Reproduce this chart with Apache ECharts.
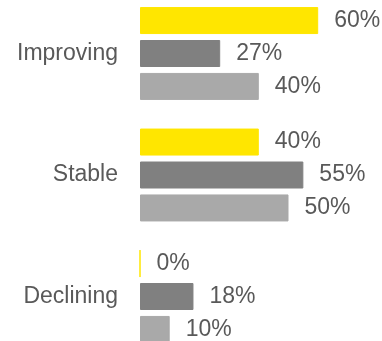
<!DOCTYPE html>
<html>
<head>
<meta charset="utf-8">
<script src="https://cdn.jsdelivr.net/npm/echarts@6/dist/echarts.min.js"></script>
<style>
  html, body { margin: 0; padding: 0; background: #fff; }
  #chart { width: 382px; height: 341px; }
</style>
</head>
<body>
<div id="chart"></div>
<script>
// Outlook categories and the three survey series (percent)
const categories = ['Improving', 'Stable', 'Declining'];
const seriesA = [60, 40, 0];
const seriesB = [27, 55, 18];
const seriesC = [40, 50, 10];
const seriesColors = ['#FFE600', '#808080', '#A9A9A9'];

const textColor = '#595959';
const font = 'Liberation Sans, Arial, sans-serif';

function makeSeries(data, color) {
  return {
    type: 'bar',
    data: data,
    barWidth: 27,
    barGap: '22%',
    itemStyle: { color: color, borderColor: color, borderWidth: 1 },
    label: {
      show: true,
      position: 'right',
      distance: 16,
      formatter: '{c}%',
      color: textColor,
      fontFamily: font,
      fontSize: 23
    },
    silent: true
  };
}

const chart = echarts.init(document.getElementById('chart'), null, { renderer: 'canvas' });
chart.setOption({
  animation: false,
  backgroundColor: '#ffffff',
  // category centres sit on the grid edges (boundaryGap: false)
  grid: { left: 140, top: 53.5, width: 237.6, height: 243, containLabel: false },
  xAxis: {
    type: 'value',
    min: 0,
    max: 80,
    show: false
  },
  yAxis: {
    type: 'category',
    data: categories,
    inverse: true,
    boundaryGap: false,
    axisLine: { show: false },
    axisTick: { show: false },
    splitLine: { show: false },
    axisLabel: {
      margin: 22,
      color: textColor,
      fontFamily: font,
      fontSize: 23
    }
  },
  series: [
    makeSeries(seriesA, seriesColors[0]),
    makeSeries(seriesB, seriesColors[1]),
    makeSeries(seriesC, seriesColors[2])
  ]
});
</script>
</body>
</html>
